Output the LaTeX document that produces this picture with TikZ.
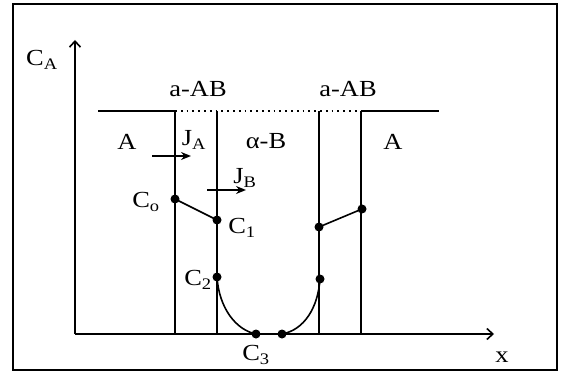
\documentclass[tikz,border=0pt]{standalone}
\usepackage{fontspec}
\setmainfont{Liberation Serif}[FakeStretch=1.15]
\usetikzlibrary{positioning, arrows.meta}

\begin{document}
\begin{tikzpicture}[
    x=1pt, y=-1pt,
    every node/.style={font=\fontsize{23}{26}\selectfont, inner sep=0pt},
    dot/.style={circle, fill, minimum size=9pt},
    wall/.style={line width=1.6pt},
    flux/.style={line width=1.6pt, -{Stealth[length=10pt, width=8pt]}},
    axis/.style={line width=1.6pt, -{Straight Barb[length=6pt, width=11pt]}},
]
  \useasboundingbox (0,0) rectangle (562,374);
  \draw[line width=1.8pt] (13,4) rectangle (557,370);

  % axes
  \coordinate (o) at (75,334);
  \coordinate (ytop) at (75,40);
  \coordinate (xend) at (494,334);
  \draw[axis] (o) -- (ytop);
  \draw[axis] (o) -- (xend);
  \node (ca) at (42,60) {C\textsubscript{A}};
  \node (xl) at (502,357) {x};

  % phase boundaries
  \coordinate (t0) at (98,111);
  \coordinate (t1) at (175,111);
  \coordinate (t2) at (217,111);
  \coordinate (t3) at (319,111);
  \coordinate (t4) at (361,111);
  \coordinate (t5) at (439,111);
  \draw[wall] (t0) -- (t1);
  \draw[wall, dash pattern=on 1.8pt off 4pt] (t1) -- (t4);
  \draw[wall] (t4) -- (t5);
  \foreach \i in {1,...,4}
    \draw[wall] (t\i) -- (t\i |- o);

  \node (ab1) at (198,89) {a-AB};
  \node (ab2) at (348,89) {a-AB};
  \node (a1) at (127,142) {A};
  \node (ja) at (194,140) {J\textsubscript{A}};
  \node (alb) at (266,141) {α-B};
  \node (a2) at (393,142) {A};
  \node (jb) at (245,178) {J\textsubscript{B}};
  \draw[flux] (152,156) -- (191,156);
  \draw[flux] (207,190) -- (246,190);

  % concentration profile
  \node[dot] (c0) at (175,199) {};
  \node[dot] (c1) at (217,220) {};
  \node[dot] (c2) at (217,277) {};
  \node[dot] (c3) at (256,334) {};
  \node[dot] (c3r) at (282,334) {};
  \node[dot] (c2r) at (320,279) {};
  \node[dot] (c1r) at (319,227) {};
  \node[dot] (c0r) at (362,209) {};
  \draw[wall] (c0.center) -- (c1.center);
  \draw[wall] (c1r.center) -- (c0r.center);
  \draw[wall] (c2.center) .. controls (219,308) and (236,330) .. (c3.center)
    -- (c3r.center) .. controls (304,330) and (318,308) .. (c2r.center);

  \node (lc0) at (146,202) {C\textsubscript{o}};
  \node (lc1) at (242,228) {C\textsubscript{1}};
  \node (lc2) at (198,280) {C\textsubscript{2}};
  \node (lc3) at (256,355) {C\textsubscript{3}};
\end{tikzpicture}
\end{document}
